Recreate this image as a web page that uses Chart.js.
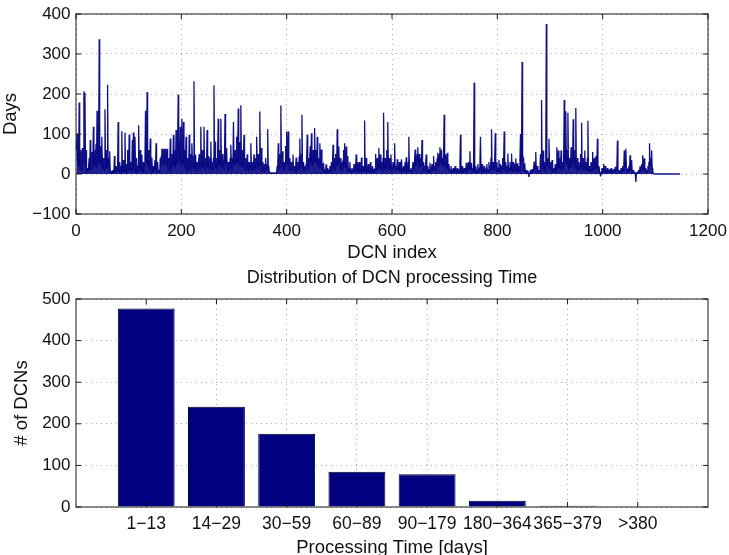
<!DOCTYPE html>
<html><head><meta charset="utf-8">
<script src="https://cdn.jsdelivr.net/npm/chart.js@4.4.1/dist/chart.umd.min.js"></script>
<style>
html,body{margin:0;padding:0;background:#fff;overflow:hidden;width:729px;height:555px;}
#c1{position:absolute;left:0;top:0;}
#c2{position:absolute;left:0;top:262px;}
</style></head><body>
<canvas id="c1" width="729" height="262"></canvas>
<canvas id="c2" width="729" height="296"></canvas>
<script>
// ---- DATA ----
// Processing time (days) for each DCN, index 1..1147
const dcnDays = [
60,100,30,73,20,179,40,12,60,25, 8,65,30,50,207,45,203,20,60,10, 5,15,8,20,40,10,85,25,12,55, 20,35,118,45,20,60,30,75,15,158, 50,80,25,337,40,70,20,45,93,30,
12,40,20,8,162,30,60,15,35,223, 20,40,10,57,5,3,8,2,5,10, 3,6,45,5,12,20,4,9,15,130, 6,12,30,3,8,20,107,5,14,35, 4,10,104,6,18,25,3,60,9,14,
99,8,20,30,5,12,85,10,104,25, 6,93,15,4,40,10,22,5,122,14, 30,60,8,18,49,5,12,30,3,25, 40,158,30,55,205,20,35,60,12,28, 89,10,5,41,8,3,20,6,12,35,
10,77,15,6,30,4,8,10,3,40, 20,45,63,30,63,50,20,63,40,63, 25,50,63,30,12,40,8,20,89,30, 15,50,25,40,98,20,35,60,15,110, 40,25,70,199,45,80,30,118,50,20,
138,40,25,130,30,60,15,35,93,20, 8,40,25,12,98,30,10,50,20,77, 30,45,12,232,35,20,49,10,25,30, 8,18,35,50,12,25,118,20,40,60, 15,30,118,25,10,40,20,35,110,15,
30,45,10,25,40,81,20,12,30,8, 40,221,30,81,15,25,40,10,50,138, 25,60,20,40,138,30,15,50,20,35, 10,45,150,25,40,65,20,30,8,30, 15,25,40,73,20,10,40,25,130,30,
20,60,25,40,93,30,50,164,35,20, 80,40,172,30,15,60,20,35,98,25, 10,40,20,8,49,15,30,5,30,12, 25,77,15,6,30,10,20,49,8,25, 40,15,93,30,20,50,10,40,156,30,
20,65,15,8,30,12,25,5,15,40, 10,25,20,112,15,20,5,3,2,4, 2,3,2,4,3,2,3,2,4,3, 5,20,8,77,30,15,50,25,171,30, 20,57,10,25,30,8,20,70,35,106,
25,40,106,20,10,40,15,8,30,12, 20,49,10,5,20,8,15,41,6,12, 30,10,20,45,89,15,50,25,148,20, 8,30,10,5,20,12,25,40,98,20, 10,40,25,50,70,30,102,40,20,60,
30,50,115,40,25,60,30,93,20,35, 40,15,77,30,20,61,10,25,8,28, 5,12,3,10,24,4,8,15,3,6, 10,20,5,12,30,8,20,73,15,25, 40,10,50,30,20,112,25,40,69,15,
25,40,10,20,30,8,35,60,20,77, 30,15,69,25,10,45,15,5,12,30, 8,3,10,15,4,8,12,25,5,10, 20,49,12,6,30,10,4,30,8,15, 5,41,10,6,20,4,12,134,8,15,
40,10,5,12,25,6,3,10,30,5, 12,4,20,8,3,12,6,15,50,10, 20,40,8,25,65,15,30,49,10,20, 30,5,40,153,20,10,40,25,15,60, 30,130,20,10,40,15,25,49,8,20,
10,30,12,25,77,15,8,20,12,37, 10,25,8,30,15,5,20,37,12,6, 15,20,8,12,30,10,42,15,5,20, 30,93,10,4,8,15,5,10,20,30, 12,25,40,61,20,30,40,50,67,20,
30,50,15,25,40,20,85,25,10,30, 8,15,20,30,49,10,5,20,8,12, 4,28,6,10,15,25,8,20,45,12, 20,8,30,15,25,40,53,20,35,50, 67,30,45,61,25,40,20,50,148,30,
20,49,15,30,53,12,20,25,8,12, 5,20,6,10,3,15,5,8,12,20, 4,10,6,15,3,8,12,5,30,98, 10,5,20,8,3,10,15,5,12,8, 28,10,5,15,30,12,25,57,10,20,
28,8,15,5,40,228,12,5,20,8, 12,4,25,10,6,15,30,93,12,5, 25,8,3,12,20,6,10,4,15,25, 8,12,5,30,10,20,8,40,112,15, 8,30,12,20,35,102,15,8,30,12,
5,15,35,10,6,25,12,4,20,40, 15,30,106,20,8,30,12,5,20,51, 10,6,15,30,8,20,51,12,5,30, 8,25,10,15,39,6,12,27,5,10, 20,8,40,100,30,60,280,50,40,15,
6,27,5,3,10,4,2,8,3,-7, 2,5,10,3,6,12,4,8,15,31, 10,20,55,8,12,20,5,3,10,6, 15,50,20,185,15,30,59,12,20,30, 8,40,375,20,30,40,15,88,25,12,
30,8,15,35,10,5,15,8,12,25, 6,20,67,12,30,59,15,40,20,10, 59,25,12,30,15,40,185,30,60,157, 25,60,40,153,20,10,40,25,15,67, 20,50,30,137,25,15,60,30,165,20,
10,40,15,8,30,12,20,50,25,128, 15,8,40,12,25,59,10,20,30,8, 40,133,12,5,20,8,12,30,6,15, 55,10,20,40,12,25,45,15,30,88, 10,5,20,6,3,-6,4,8,15,5,
10,25,6,12,20,4,8,3,15,6, 10,4,8,12,3,15,5,8,3,12, 6,10,4,18,8,12,20,84,12,5, 10,3,8,5,15,4,10,20,8,15, 59,20,30,63,15,8,12,5,10,20,
8,47,20,12,35,8,4,10,3,2, 5,2,-20,2,4,5,3,6,10,4, 19,8,12,25,15,47,20,10,39,12, 6,15,4,8,10,20,12,30,77,25, 40,20,59,15,10,2,0,0,0,0,
0,0,0,0,0,0,0,0,0,0, 0,0,0,0,0,0,0,0,0,0, 0,0,0,0,0,0,0,0,0,0, 0,0,0,0,0,0,0,0,0,0, 0,0,0,0,0,0,0
];
const indexTicks = [0, 200, 400, 600, 800, 1000, 1200];
const dayTicks = [-100, 0, 100, 200, 300, 400];

const timeBins = ['1\u221213', '14\u221229', '30\u221259', '60\u221289', '90\u2212179', '180\u2212364', '365\u2212379', '>380'];
const dcnCounts = [477, 241, 176, 85, 79, 15, 3, 0];
const countTicks = [0, 100, 200, 300, 400, 500];

// ---- STYLE ----
const FONT = "'Liberation Sans', Arial, Helvetica, sans-serif";
const NAVY = '#000080';
const tickFont = {family: FONT, size: 17, lineHeight: 1};
const titleFont = {family: FONT, size: 18.5, lineHeight: 1};
const plain = v => String(v).replace('-', '\u2212');
const gridOpts = {color: '#a8a8a8', lineWidth: 1, drawTicks: false};
const borderOpts = {display: false, dash: [1, 4]};
const noOverhang = s => { s.paddingLeft = 0; s.paddingRight = 0; };

const framePlugin = {
  id: 'frame',
  afterDraw(chart) {
    const {ctx, chartArea: a, scales} = chart;
    ctx.save();
    ctx.strokeStyle = '#1a1a1a';
    ctx.lineWidth = 1;
    ctx.setLineDash([]);
    ctx.strokeRect(a.left, a.top, a.right - a.left, a.bottom - a.top);
    ctx.beginPath();
    const L = 5;
    scales.x.ticks.forEach(t => {
      const px = scales.x.getPixelForValue(t.value);
      ctx.moveTo(px, a.bottom); ctx.lineTo(px, a.bottom - L);
      ctx.moveTo(px, a.top); ctx.lineTo(px, a.top + L);
    });
    scales.y.ticks.forEach(t => {
      const py = scales.y.getPixelForValue(t.value);
      ctx.moveTo(a.left, py); ctx.lineTo(a.left + L, py);
      ctx.moveTo(a.right, py); ctx.lineTo(a.right - L, py);
    });
    ctx.stroke();
    ctx.restore();
  }
};

// ---- TOP CHART ----
new Chart(document.getElementById('c1'), {
  type: 'line',
  data: {
    datasets: [{
      data: dcnDays.map((v, i) => ({x: i + 1, y: v})),
      borderColor: 'rgba(0,0,128,0.92)',
      backgroundColor: 'rgba(0,0,128,0.88)',
      borderWidth: 1.3,
      borderJoinStyle: 'bevel',
      pointRadius: 0,
      tension: 0,
      fill: 'origin'
    }]
  },
  options: {
    responsive: false,
    animation: false,
    events: [],
    layout: {padding: {left: 0, right: 21, top: 9.5, bottom: 0}},
    plugins: {legend: {display: false}, tooltip: {enabled: false}},
    scales: {
      x: {
        type: 'linear', min: 0, max: 1200,
        afterBuildTicks: s => { s.ticks = indexTicks.map(v => ({value: v})); },
        afterFit: s => { s.height = 48; noOverhang(s); },
        ticks: {font: tickFont, color: '#111', padding: 8.5, maxRotation: 0, autoSkip: false, callback: plain},
        grid: gridOpts, border: borderOpts,
        title: {display: true, text: 'DCN index', font: titleFont, color: '#111', padding: {top: 0, bottom: 0}}
      },
      y: {
        type: 'linear', min: -100, max: 400,
        afterBuildTicks: s => { s.ticks = dayTicks.map(v => ({value: v})); },
        afterFit: s => { s.width = 76; },
        ticks: {font: tickFont, color: '#111', padding: 5.5, callback: plain},
        grid: gridOpts, border: borderOpts,
        title: {display: true, text: 'Days', font: titleFont, color: '#111', padding: {top: 1.8, bottom: 0}}
      }
    }
  },
  plugins: [framePlugin]
});

// ---- BOTTOM CHART ----
new Chart(document.getElementById('c2'), {
  type: 'bar',
  data: {
    datasets: [{
      data: dcnCounts.map((v, i) => ({x: i + 1, y: v})),
      backgroundColor: NAVY,
      borderColor: '#000022',
      borderWidth: 1,
      barPercentage: 0.81,
      categoryPercentage: 1
    }]
  },
  options: {
    responsive: false,
    animation: false,
    events: [],
    layout: {padding: {left: 0, right: 21, top: 0, bottom: 0}},
    plugins: {
      legend: {display: false}, tooltip: {enabled: false},
      title: {display: true, text: 'Distribution of DCN processing Time', fullSize: false,
        font: {family: FONT, size: 18, lineHeight: 1, weight: 'normal'}, color: '#111',
        padding: {top: 7.3, bottom: 11.7}}
    },
    scales: {
      x: {
        type: 'linear', min: 0, max: 9, offset: false,
        afterBuildTicks: s => { s.ticks = timeBins.map((_, i) => ({value: i + 1})); },
        afterFit: s => { s.height = 51; noOverhang(s); },
        ticks: {font: {family: FONT, size: 17.5, lineHeight: 1}, color: '#111', padding: 8.5, maxRotation: 0, minRotation: 0, autoSkip: false,
          callback: v => timeBins[v - 1] ?? ''},
        grid: Object.assign({}, gridOpts, {offset: false}), border: borderOpts,
        title: {display: true, text: 'Processing Time [days]', font: titleFont, color: '#111', padding: {top: 0, bottom: 0.5}}
      },
      y: {
        type: 'linear', min: 0, max: 500,
        afterBuildTicks: s => { s.ticks = countTicks.map(v => ({value: v})); },
        afterFit: s => { s.width = 76; },
        ticks: {font: tickFont, color: '#111', padding: 5.5, callback: plain},
        grid: gridOpts, border: borderOpts,
        title: {display: true, text: '# of DCNs', font: titleFont, color: '#111', padding: {top: 12.4, bottom: 0}}
      }
    }
  },
  plugins: [framePlugin]
});
</script>
</body></html>
